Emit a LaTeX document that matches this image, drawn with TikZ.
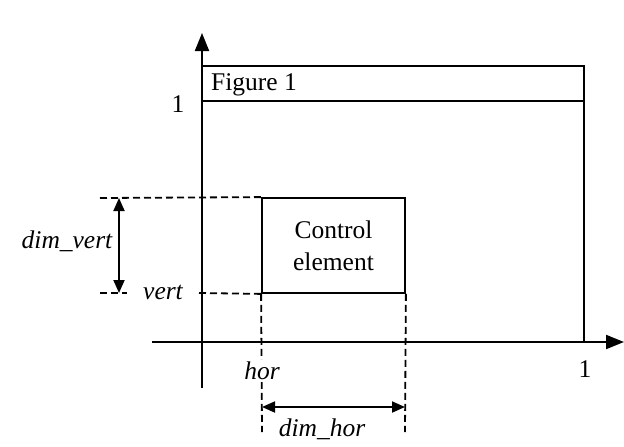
\documentclass[tikz,border=0pt]{standalone}
\usepackage{fontspec}
\setmainfont{Liberation Serif}
\usetikzlibrary{arrows.meta}
\begin{document}
\begin{tikzpicture}[x=1pt,y=-1pt,
  thin line/.style={line width=1.8pt},
  dash line/.style={line width=1.8pt, dash pattern=on 7pt off 4pt},
  axis/.style={line width=2pt, -{Triangle[length=18pt,width=14pt]}},
  dim/.style={line width=1.8pt, {Triangle[length=13pt,width=11pt]}-{Triangle[length=13pt,width=11pt]}},
  lbl/.style={font=\fontsize{25.5}{30}\selectfont, inner sep=1pt},
  ilbl/.style={font=\fontsize{25.5}{30}\selectfont\itshape, inner sep=1pt}]
\useasboundingbox (0,0) rectangle (624,447);
% axes
\coordinate (ybot) at (202,388);
\coordinate (ytop) at (202,33);
\coordinate (xl) at (152,342);
\coordinate (xr) at (624,342);
\draw[axis] (ybot) -- (ytop);
\draw[axis] (xl) -- (xr);
% figure 1 frame
\coordinate (f1) at (202,66);
\coordinate (f2) at (584,66);
\coordinate (f3) at (584,342);
\coordinate (h1) at (202,101);
\coordinate (h2) at (584,101);
\draw[thin line] (f1) -- (f2) -- (f3);
\draw[thin line] (h1) -- (h2);
\node[lbl, anchor=west] (fig) at (210,85) {Figure 1};
\node[lbl] (one y) at (178,104) {1};
\node[lbl] (one x) at (585,369) {1};
% control element
\node[draw, thin line, minimum width=143pt, minimum height=95pt, inner sep=0pt,
      align=center, font=\fontsize{25.5}{32}\selectfont] (ce) at (333.5,245.5) {Control\\element};
% dashed guides
\coordinate (dt) at (100,198);
\coordinate (db) at (100,293);
\coordinate (dbm) at (127,293);
\node[ilbl, inner sep=0pt] (vert) at (163,292) {vert};
\coordinate (vr0) at (199,293);
\draw[dash line] (dt) -- (ce.north west);
\draw[dash line] (db) -- (dbm);
\draw[dash line] (vr0) -- (ce.south west);
\coordinate (vl) at (262,432);
\coordinate (vr) at (405,432);
\draw[dash line] (ce.south west) -- (vl);
\draw[dash line] (ce.south east) -- (vr);
% dimension arrows
\coordinate (av1) at (119,198);
\coordinate (av2) at (119,293);
\draw[dim] (av1) -- (av2);
\node[ilbl] (dimvert) at (67,241) {dim\_vert};
\coordinate (ah1) at (262,407);
\coordinate (ah2) at (405,407);
\draw[dim] (ah1) -- (ah2);
\node[ilbl] (dimhor) at (322,429) {dim\_hor};
\node[ilbl, fill=white, inner sep=2pt] (hor) at (262,371) {hor};
\end{tikzpicture}
\end{document}
